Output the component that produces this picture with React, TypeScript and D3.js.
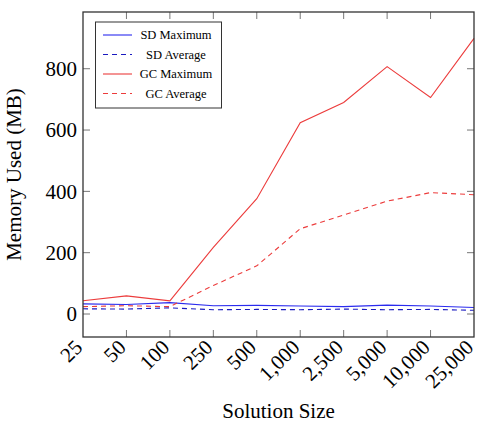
import React from 'react';
import * as d3 from 'd3';

const sizes = ['25', '50', '100', '250', '500', '1,000', '2,500', '5,000', '10,000', '25,000'];
const sdMax = [33, 31, 37, 27, 28, 26, 24, 29, 26, 21];
const sdAvg = [17, 16, 20, 14, 15, 14, 16, 14, 15, 12];
const gcMax = [43, 59, 43, 217, 376, 624, 690, 807, 706, 899];
const gcAvg = [24, 27, 24, 93, 157, 278, 323, 368, 396, 389];
const yTicks = [0, 200, 400, 600, 800];

const seriesList = [
  {name: 'SD Maximum', values: sdMax, color: '#2b2bee', dash: null},
  {name: 'SD Average', values: sdAvg, color: '#1a1ac0', dash: '5,4'},
  {name: 'GC Maximum', values: gcMax, color: '#ec3c3c', dash: null},
  {name: 'GC Average', values: gcAvg, color: '#ec3c3c', dash: '5,4'},
];

const font = "'Liberation Serif', 'DejaVu Serif', serif";

export default function App() {
  const W = 479, H = 424;
  const left = 83, right = 474, top = 12, bottom = 337;

  const x = d3.scalePoint<string>().domain(sizes).range([left, right]);
  const y = d3.scaleLinear().domain([-75, 985]).range([bottom, top]);

  const line = d3.line<number>()
    .x((_, i) => x(sizes[i]) as number)
    .y(d => y(d));

  const tickLen = 7;

  return (
    <svg width={W} height={H} style={{position: 'absolute', left: 0, top: 0, fontFamily: font}}>
      <rect width={W} height={H} fill="white" />

      {/* series */}
      {seriesList.map(s => (
        <path key={s.name} d={line(s.values) || ''} fill="none" stroke={s.color}
          strokeWidth={1.1} strokeDasharray={s.dash || undefined} />
      ))}

      {/* ticks, inside on both sides */}
      {sizes.map((c, i) => i > 0 && i < sizes.length - 1 ? (
        <g key={c} stroke="#777" strokeWidth={1}>
          <line x1={x(c)} x2={x(c)} y1={bottom} y2={bottom - tickLen} />
          <line x1={x(c)} x2={x(c)} y1={top} y2={top + tickLen} />
        </g>
      ) : null)}
      {yTicks.map(t => (
        <g key={t} stroke="#777" strokeWidth={1}>
          <line x1={left} x2={left + tickLen} y1={y(t)} y2={y(t)} />
          <line x1={right} x2={right - tickLen} y1={y(t)} y2={y(t)} />
        </g>
      ))}

      <rect x={left} y={top} width={right - left} height={bottom - top} fill="none" stroke="#333" strokeWidth={1.3} />

      {/* y tick labels */}
      {yTicks.map(t => (
        <text key={t} x={left - 6} y={y(t)} dy="0.35em" textAnchor="end" fontSize={21}>{t}</text>
      ))}

      {/* x tick labels, rotated */}
      {sizes.map(c => (
        <text key={c} transform={`translate(${(x(c) as number) - 10},${bottom + 1}) rotate(-45)`}
          textAnchor="end" dy="0.72em" fontSize={21}>{c}</text>
      ))}

      <text x={(left + right) / 2} y={418} textAnchor="middle" fontSize={21}>Solution Size</text>
      <text transform={`translate(21,${(top + bottom) / 2}) rotate(-90)`} textAnchor="middle" fontSize={21}>Memory Used (MB)</text>

      {/* legend */}
      <g>
        <rect x={95.5} y={22} width={126} height={86} fill="white" stroke="#333" strokeWidth={1} />
        {seriesList.map((s, i) => {
          const ly = 35 + i * 19.5;
          return (
            <g key={s.name}>
              <line x1={103} x2={132} y1={ly} y2={ly} stroke={s.color} strokeWidth={1.1}
                strokeDasharray={s.dash || undefined} />
              <text x={176} y={ly} dy="0.35em" textAnchor="middle" fontSize={12.5}>{s.name}</text>
            </g>
          );
        })}
      </g>
    </svg>
  );
}
